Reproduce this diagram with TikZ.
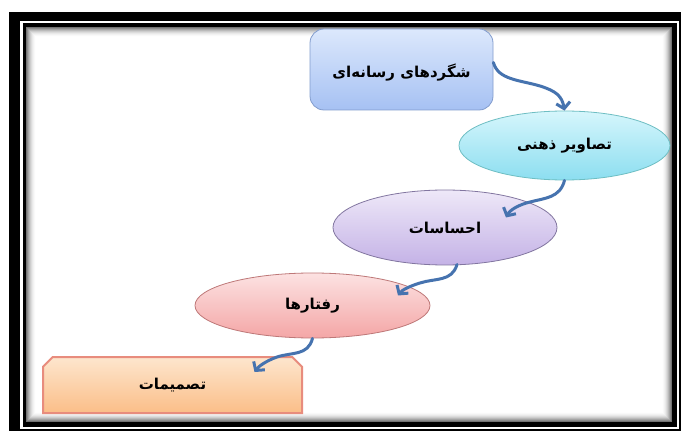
\documentclass[tikz,border=0pt]{standalone}
\usepackage{fontspec}
\usetikzlibrary{shapes.geometric,shapes.misc,arrows.meta,calc}
\TeXXeTstate=1
\newfontfamily\arabicfont[Script=Arabic]{DejaVu Sans}
\definecolor{arrowblue}{RGB}{70,115,175}
\definecolor{boxtop}{RGB}{220,232,252}
\definecolor{boxbot}{RGB}{166,193,243}
\definecolor{boxline}{RGB}{130,156,205}
\definecolor{cyantop}{RGB}{214,246,252}
\definecolor{cyanbot}{RGB}{140,222,240}
\definecolor{cyanline}{RGB}{110,190,195}
\definecolor{purtop}{RGB}{238,232,248}
\definecolor{purbot}{RGB}{196,178,230}
\definecolor{purline}{RGB}{130,118,160}
\definecolor{pinktop}{RGB}{252,226,226}
\definecolor{pinkbot}{RGB}{244,166,166}
\definecolor{pinkline}{RGB}{190,120,120}
\definecolor{oratop}{RGB}{253,230,206}
\definecolor{orabot}{RGB}{251,190,136}
\definecolor{oraline}{RGB}{232,140,125}
\tikzset{
  lbl/.style={font=\arabicfont\bfseries\fontsize{15}{17}\selectfont, text=black},
  flow/.style={draw=arrowblue, line width=3pt, line cap=round,
    -{Straight Barb[length=6pt,width=14pt,line width=3pt]}},
}
\begin{document}
\begin{tikzpicture}[x=1pt,y=-1pt]
\useasboundingbox (0,0) rectangle (681,433);
\fill[white] (0,0) rectangle (681,433);
% frame
\fill[black] (9,12) rectangle (681,431);
\fill[white] (20,21) rectangle (678.5,429);
\fill[black] (22.7,23.3) rectangle (677,427);
\fill[white] (26,26.7) rectangle (672,422);
\foreach \i in {0,...,9}{
  \pgfmathsetmacro{\op}{0.55*(1-\i/10)^2}
  \draw[black, opacity=\op, line width=1.1pt] (26.5+\i,27.2+\i) rectangle (671.5-\i,421.5-\i);
}
% nodes
\node[draw=boxline, line width=0.8pt, rounded corners=14pt, top color=boxtop, bottom color=boxbot,
  minimum width=183pt, minimum height=81pt, inner sep=0pt] (media) at (401.5,69.5) {};
\node[lbl] at ($(media.center)+(0,3)$) {\beginR شگردهای رسانه^^^^200cای\endR};
\node[draw=cyanline, line width=0.8pt, ellipse, top color=cyantop, bottom color=cyanbot,
  minimum width=211pt, minimum height=69pt, inner sep=0pt, lbl] (image) at (564.5,145.5) {\beginR تصاویر ذهنی\endR};
\node[draw=purline, line width=0.8pt, ellipse, top color=purtop, bottom color=purbot,
  minimum width=224pt, minimum height=75pt, inner sep=0pt, lbl] (feel) at (445,227.5) {\beginR احساسات\endR};
\node[draw=pinkline, line width=0.8pt, ellipse, top color=pinktop, bottom color=pinkbot,
  minimum width=235pt, minimum height=65pt, inner sep=0pt, lbl] (behav) at (312.5,305.5) {\beginR رفتارها\endR};
\node[draw=oraline, line width=2pt, chamfered rectangle, chamfered rectangle corners={north west,north east},
  chamfered rectangle xsep=13pt, chamfered rectangle angle=45, top color=oratop, bottom color=orabot,
  minimum width=259pt, minimum height=56pt, inner sep=0pt, lbl] (decide) at (172.5,385) {\beginR تصمیمات\endR};
% connectors
\draw[flow] ($(media.east)+(0,-7)$) .. controls (498,80) and (520,80) .. (540,86)
  .. controls (556,91) and (562,96) .. (image.north);
\coordinate (t2) at ($(feel.center)+(61,-10)$);
\draw[flow] (image.south) .. controls (560,198) and (545,198) .. (530,202)
  .. controls (518,205) and (510,210) .. (t2);
\coordinate (t3) at ($(behav.center)+(85.5,-10)$);
\draw[flow] ($(feel.center)+(12,37)$) .. controls (452,282) and (435,278) .. (420,283)
  .. controls (410,286) and (402,290) .. (t3);
\coordinate (t4) at ($(decide.center)+(82,-13)$);
\draw[flow] (behav.south) .. controls (308,356) and (292,352) .. (277,357)
  .. controls (266,361) and (259,366) .. (t4);
\end{tikzpicture}
\end{document}
